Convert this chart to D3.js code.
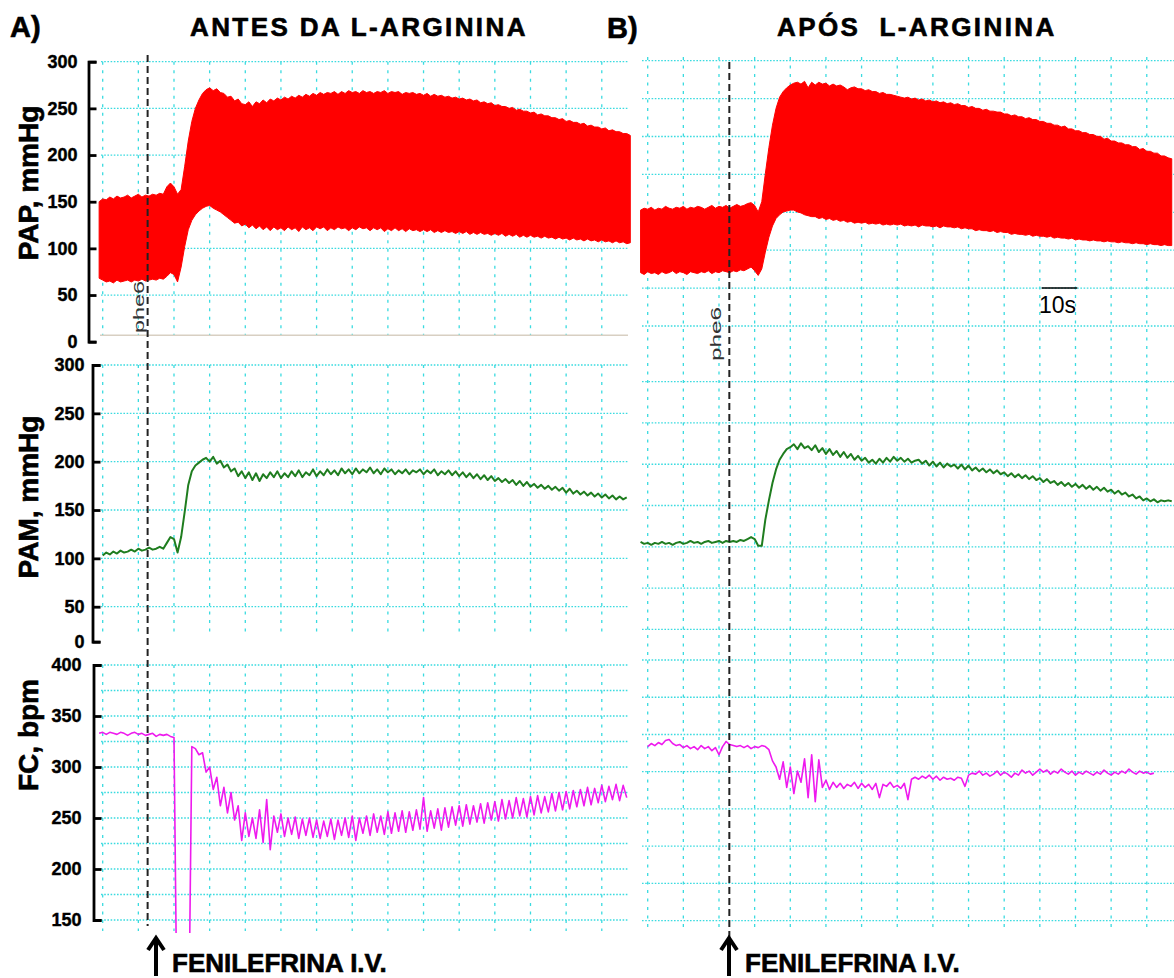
<!DOCTYPE html>
<html>
<head>
<meta charset="utf-8">
<script src="https://cdn.jsdelivr.net/npm/d3@7"></script>
<style>
  body { margin: 0; background: #fff; }
  svg { display: block; }
</style>
</head>
<body>
<script>
// ---------------------------------------------------------------
// Recordings: arterial pressure (PAP), mean pressure (PAM) and heart
// rate (FC) before (A) and after (B) L-arginine; phenylephrine i.v.
// Every series is sampled once per second (t in s, grid = 10 s).
// ---------------------------------------------------------------

// axis tick labels
const papTicks = [0, 50, 100, 150, 200, 250, 300];
const pamTicks = [0, 50, 100, 150, 200, 250, 300];
const fcTicks  = [150, 200, 250, 300, 350, 400];

// phenylephrine injection time (s) in each record
const injectionTimes = [12.6, 22.9];
// 10 s calibration bar (start time, duration) in record B
const scaleBar = [110.5, 10];

// first sample time of each series (s)
const t0 = { papA: -1, pamA: 0, fcA: -1, papB: -2, pamB: -2, fcB: 0 };

// A) systolic / diastolic envelope of the pulsatile pressure (mmHg)
const papSysA = [
  150,153,152,155,153,156,154,155,157,154,156,158,155,157,156,158,157,159,158,
  166,170,166,158,163,188,215,236,250,259,266,270,272,269,271,267,266,262,263,258,260,255,254,257,252,257,255,259,256,260,258,261,259,
  262,260,263,261,264,262,265,263,266,264,267,265,267,266,268,265,268,266,269,267,
  268,266,269,267,268,266,268,267,269,266,268,267,268,265,267,266,267,265,
  266,264,266,263,265,263,264,262,263,261,262,260,261,259,260,258,259,256,257,255,
  256,253,254,252,252,250,251,248,249,247,247,245,246,243,244,242,242,240,240,238,
  239,236,237,235,235,233,234,231,232,230,230,228,229,226,227,225,225,223,223,221
];
const papDiaA = [
  68,66,64,65,63,66,64,65,66,64,66,65,67,65,66,67,66,68,67,
  70,74,72,64,80,102,120,130,136,140,143,145,146,143,141,139,136,133,130,127,128,124,126,122,125,121,124,120,123,119,123,120,122,
  119,123,120,122,118,123,120,122,119,123,121,123,119,122,120,123,121,122,119,122,
  120,123,121,122,119,122,120,122,118,121,119,122,119,121,118,121,119,120,
  118,120,118,120,117,119,117,119,117,118,116,118,116,118,115,117,115,117,115,116,
  114,116,114,116,113,115,113,115,112,114,112,114,112,113,111,113,111,112,110,112,
  110,111,109,111,109,110,108,110,108,109,107,109,107,108,106,108,106,107,105,106
];

// B) systolic / diastolic envelope (mmHg)
const papSysB = [
  141,143,142,144,141,143,142,145,143,142,144,143,145,142,144,143,145,144,142,144,146,143,145,144,146,143,145,147,145,146,148,
  149,146,139,150,180,208,232,250,262,268,272,275,277,278,276,279,272,278,275,278,
  276,277,274,276,274,275,273,270,272,273,271,271,269,270,268,268,266,267,265,265,264,263,
  262,261,262,260,261,259,260,258,259,257,258,256,257,255,256,254,255,253,253,251,
  252,250,250,248,249,247,247,246,246,244,244,242,243,241,241,239,240,238,238,236,
  236,234,234,232,232,230,231,228,228,226,226,224,224,222,222,220,220,217,218,215,
  215,213,213,211,211,209,209,206,207,204,204,202,202,199,199,197,196
];
const papDiaB = [
  74,72,75,73,74,72,75,73,74,76,73,75,74,72,75,74,73,75,74,76,73,75,74,76,75,74,76,75,77,76,78,
  80,76,71,78,96,112,124,132,136,139,140,141,141,139,138,136,135,134,134,132,
  133,131,132,130,131,129,130,128,129,127,128,127,128,126,127,126,127,125,126,125,126,125,
  126,124,125,124,125,123,125,124,124,123,124,122,124,123,123,122,123,121,122,121,
  121,119,120,119,119,118,119,117,118,117,117,115,116,115,115,114,115,113,114,113,
  113,112,113,111,112,111,111,110,111,109,110,109,109,108,109,108,108,107,108,107,
  107,106,107,106,106,105,106,105,105,104,105,104,104,103,104,103,103
];

// mean arterial pressure (mmHg)
const pamA = [
  103,106,104,107,105,108,106,107,109,107,110,108,109,111,109,110,112,110,
  116,122,120,106,122,148,176,190,196,199,202,204,200,205,198,201,194,197,190,193,
  185,190,183,189,181,188,180,187,183,189,184,190,183,
  188,184,190,185,191,184,189,186,192,185,190,186,192,187,191,186,193,188,192,187,
  193,188,192,189,194,188,192,187,193,189,192,187,191,188,192,187,191,
  189,192,187,191,188,192,186,190,187,191,186,190,185,189,184,188,183,187,182,186,
  181,185,180,183,179,182,178,181,176,180,175,179,174,177,173,176,172,175,171,174,
  170,173,168,172,167,170,166,169,165,168,164,167,163,166,162,165,161,164,161,163
];
const pamB = [
  117,115,116,114,116,115,117,115,116,114,116,117,115,116,118,116,117,115,117,118,116,117,118,116,118,117,118,117,119,118,120,
  122,120,113,113,140,160,178,192,202,208,213,215,218,213,219,214,216,212,217,210,
  214,208,213,207,211,205,210,204,208,202,206,201,204,199,202,198,203,199,204,200,
  205,201,204,200,203,199,201,
  202,198,201,196,200,195,199,194,198,195,197,193,197,192,196,191,194,190,193,189,
  192,188,191,187,189,185,188,184,187,183,186,182,185,181,183,179,182,178,180,176,
  179,175,178,174,177,173,176,172,175,171,174,170,173,169,171,167,170,166,168,164,
  166,162,164,160,162,159,161,158,160,159,160,159
];

// heart rate (bpm); zeros are the off-scale recording artefact
const fcA = [
  333,334,332,334,333,332,334,333,331,333,334,332,333,331,332,333,330,332,331,332,330,329,
  0,0,0,0,
  320,318,312,314,295,300,278,290,262,280,255,275,248,262,228,255,232,250,230,258,
  226,268,219,252,236,254,232,250,234,251,230,249,233,250,231,248,230,247,232,249,
  229,248,233,250,231,252,228,250,235,252,233,254,236,252,234,256,235,255,237,257,
  236,256,238,258,239,
  270,237,257,240,259,238,260,241,261,243,262,242,263,244,262,246,264,245,265,248,
  266,247,268,249,267,250,270,252,269,251,271,253,272,255,271,256,274,257,275,258,
  276,259,277,261,278,262,280,263,279,265,282,266,281,268,283,267,282,270
];
const fcB = [
  320,323,321,324,322,326,327,323,321,322,319,321,318,320,317,321,318,320,316,319,
  312,320,325,322,321,320,321,319,321,318,320,319,321,320,
  317,306,300,288,305,280,300,274,296,285,308,270,312,266,307,280,287,278,285,280,
  284,279,283,281,285,279,284,280,283,278,284,270,283,281,285,280,282,279,284,268,
  288,290,288,291,289,292,288,291,287,290,288,289,287,290,289,281,
  292,294,293,296,292,294,291,293,296,292,295,293,290,294,292,297,294,296,292,295,
  298,295,297,293,296,294,298,295,293,296,292,295,293,296,294,292,295,293,297,294,
  292,295,293,296,294,298,295,293,296,294,295,293,294
];

// ---------------------------------------------------------------
const W = 1174, H = 978;
const FONT = "'Liberation Sans', Arial, Helvetica, sans-serif";

const svg = d3.select("body").append("svg")
  .attr("width", W).attr("height", H)
  .style("font-family", FONT);

// time scales (one per record) and shared value scales (one per row)
const xA = d3.scaleLinear().domain([0, 148]).range([102.7, 630.3]);
const xB = d3.scaleLinear().domain([0, 148]).range([647.7, 1175.3]);
const yPAP = d3.scaleLinear().domain([0, 300]).range([341.7, 61.7]);
const yPAM = d3.scaleLinear().domain([0, 50, 300]).range([641.7, 606.7, 365]);
const yFC  = d3.scaleLinear().domain([150, 400]).range([920, 665]);

const series = (vals, start) => vals.map((v, i) => ({ t: start + i, v }));
const envelope = (sys, dia, start) => sys.map((s, i) => ({ t: start + i, s, d: dia[i] }));

// heavy black lettering (slight outline thickens the bold face)
const heavy = sel => sel.attr("font-weight", "bold").attr("fill", "#000")
  .attr("stroke", "#000").attr("stroke-width", 0.6);

// ---------------- chart-paper grid ----------------
const gridColor = "#3adbe0";
const grid = svg.append("g").attr("class", "grid")
  .attr("stroke", gridColor).attr("stroke-width", 1.3).attr("fill", "none");
const gridTimes = d3.range(0, 141, 10);

function hLine(x0, x1, y) {
  grid.append("line").attr("x1", x0).attr("x2", x1).attr("y1", y).attr("y2", y)
    .attr("stroke-dasharray", "1.6,1.6");
}
function vLine(x, y0, y1) {
  grid.append("line").attr("x1", x).attr("x2", x).attr("y1", y0).attr("y2", y1)
    .attr("stroke-dasharray", "3,5.5");
}

// record A: grid follows the calibrated axes
const gridRowsA = [
  { y: yPAP, vals: papTicks.filter(v => v > 0), top: 61.7, bottom: 336 },
  { y: yPAM, vals: pamTicks.filter(v => v > 0), top: 365, bottom: 637 },
  { y: yFC,  vals: d3.range(150, 401, 25),       top: 665, bottom: 931 }
];
gridRowsA.forEach(r => {
  r.vals.forEach(v => hLine(101, 628, r.y(v)));
  gridTimes.forEach(t => vLine(xA(t), r.top, r.bottom));
});

// record B: recorder paper (own ruling)
const gridRowsB = [
  { top: 60.7,  step: 37.9,  n: 8 },
  { top: 381.7, step: 41.27, n: 7 },
  { top: 660,   step: 37.24, n: 8 }
];
gridRowsB.forEach(r => d3.range(r.n).forEach(k => hLine(642, W, r.top + k * r.step)));
gridTimes.forEach(t => vLine(xB(t), 57, 932));

// zero reference of the pressure channel in A
svg.append("line").attr("x1", 100).attr("x2", 628)
  .attr("y1", yPAP(0) - 6.5).attr("y2", yPAP(0) - 6.5)
  .attr("stroke", "#d8cfc2").attr("stroke-width", 1.5);

// ---------------- traces ----------------
function pressureArea(x, data) {
  const area = d3.area().x(d => x(d.t)).y0(d => yPAP(d.d)).y1(d => yPAP(d.s));
  svg.append("path").datum(data).attr("d", area)
    .attr("fill", "#ff0000").attr("stroke", "#ff0000").attr("stroke-width", 1);
}
pressureArea(xA, envelope(papSysA, papDiaA, t0.papA));
pressureArea(xB, envelope(papSysB, papDiaB, t0.papB));

function trace(x, y, data, color, width, clip) {
  const line = d3.line().x(d => x(d.t)).y(d => y(d.v));
  const p = svg.append("path").datum(data).attr("d", line)
    .attr("fill", "none").attr("stroke", color).attr("stroke-width", width)
    .attr("stroke-linejoin", "round");
  if (clip) p.attr("clip-path", clip);
}

svg.append("clipPath").attr("id", "fcClip")
  .append("rect").attr("x", 0).attr("y", 0).attr("width", W).attr("height", 933);

const green = "#1f7d1f", magenta = "#ee1aee";
trace(xA, yPAM, series(pamA, t0.pamA), green, 2);
trace(xB, yPAM, series(pamB, t0.pamB), green, 2);
trace(xA, yFC, series(fcA, t0.fcA), magenta, 1.6, "url(#fcClip)");
trace(xB, yFC, series(fcB, t0.fcB), magenta, 1.6, "url(#fcClip)");

// ---------------- injection markers ----------------
const markers = [
  { x: xA(injectionTimes[0]), top: 55, bottom: 926, labelX: 143.5, labelY: 333, labelLen: 52, arrowX: 156 },
  { x: xB(injectionTimes[1]), top: 62, bottom: 938, labelX: 720.5, labelY: 361, labelLen: 54, arrowX: 729 }
];
markers.forEach(m => {
  svg.append("line").attr("x1", m.x).attr("x2", m.x).attr("y1", m.top).attr("y2", m.bottom)
    .attr("stroke", "#222").attr("stroke-width", 2).attr("stroke-dasharray", "7,4");
  svg.append("text")
    .attr("transform", `translate(${m.labelX},${m.labelY}) rotate(-90)`)
    .attr("font-size", 14).attr("fill", "#333")
    .attr("textLength", m.labelLen).attr("lengthAdjust", "spacingAndGlyphs")
    .text("phe6");
  svg.append("path")
    .attr("d", `M${m.arrowX},976V939M${m.arrowX - 8},950L${m.arrowX},938L${m.arrowX + 8},950`)
    .attr("fill", "none").attr("stroke", "#000").attr("stroke-width", 4);
  svg.append("text").attr("x", m.arrowX + 16).attr("y", 972)
    .attr("font-size", 26).call(heavy).text("FENILEFRINA I.V.");
});

// ---------------- axes (record A) ----------------
function yAxis(scale, ticks, x, pad) {
  const g = svg.append("g").attr("transform", `translate(${x},0)`)
    .call(d3.axisLeft(scale).tickValues(ticks).tickSize(-8).tickPadding(pad));
  g.selectAll("path, line").attr("stroke", "#000").attr("stroke-width", 2.8);
  g.selectAll("text").attr("font-family", FONT).attr("font-size", 18)
    .call(heavy).attr("stroke-width", 0.4);
  g.attr("font-family", null).attr("font-size", null);
}
yAxis(yPAP, papTicks, 88.5, 11);
yAxis(yPAM, pamTicks, 92.5, 8);
yAxis(yFC, fcTicks, 93.5, 12);

// axis titles
[["PAP, mmHg", 183], ["PAM, mmHg", 497], ["FC, bpm", 735]].forEach(([txt, cy]) => {
  svg.append("text").attr("transform", `translate(38,${cy}) rotate(-90)`)
    .attr("text-anchor", "middle").attr("font-size", 28).call(heavy)
    .text(txt);
});

// ---------------- panel titles ----------------
svg.append("text").attr("x", 10).attr("y", 37).attr("font-size", 29).call(heavy).text("A)");
svg.append("text").attr("x", 607).attr("y", 38).attr("font-size", 29).call(heavy).text("B)");
svg.append("text").attr("x", 190).attr("y", 36).attr("font-size", 26).call(heavy)
  .attr("letter-spacing", 2.4).text("ANTES DA L-ARGININA");
svg.append("text").attr("x", 777).attr("y", 36).attr("font-size", 26).call(heavy)
  .attr("letter-spacing", 2.4).attr("xml:space", "preserve").style("white-space", "pre")
  .text("APÓS  L-ARGININA");

// ---------------- time calibration ----------------
const bx0 = xB(scaleBar[0]), bx1 = xB(scaleBar[0] + scaleBar[1]);
svg.append("line").attr("x1", bx0).attr("x2", bx1).attr("y1", 288).attr("y2", 288)
  .attr("stroke", "#000").attr("stroke-width", 1.6);
svg.append("text").attr("x", (bx0 + bx1) / 2 - 2).attr("y", 313).attr("text-anchor", "middle")
  .attr("font-size", 23).text("10s");
</script>
</body>
</html>
